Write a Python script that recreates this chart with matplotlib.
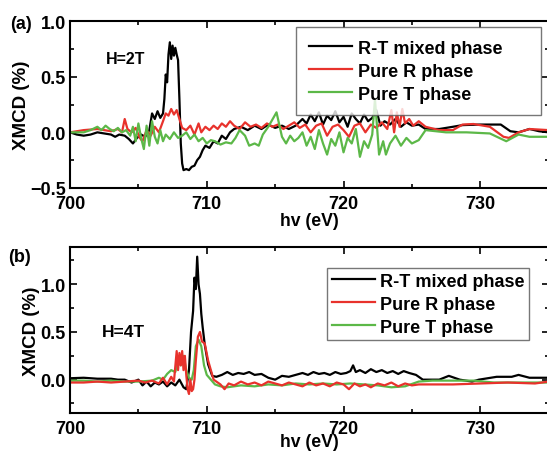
import matplotlib
matplotlib.use("Agg")
import matplotlib.pyplot as plt
from matplotlib.ticker import MultipleLocator

plt.rcParams['font.family'] = ['Liberation Sans', 'DejaVu Sans']
plt.rcParams['font.weight'] = 'bold'

# ---- panel (a), H=2T ----
a_rt_x = [700, 700.5, 701, 701.5, 702, 702.5, 703, 703.3, 703.6, 704,
          704.3, 704.6, 704.9, 705.2, 705.5, 705.8, 706.0, 706.2, 706.4, 706.6,
          706.8, 706.9, 707.0, 707.1, 707.2, 707.3, 707.4, 707.5, 707.6, 707.7,
          707.8, 707.9, 708.0, 708.1, 708.2, 708.3, 708.5, 708.7, 708.9, 709.1,
          709.3, 709.5, 709.7, 709.9, 710.2, 710.5, 710.8, 711.1, 711.4, 711.7,
          712.0, 712.5, 713, 713.5, 714, 714.5, 715, 715.5, 716, 716.5,
          717, 717.3, 717.6, 717.9, 718.2, 718.5, 718.8, 719.1, 719.4, 719.7,
          720.0, 720.3, 720.6, 720.9, 721.2, 721.5, 721.8, 722.1, 722.4, 722.7,
          723.0, 723.4, 723.8, 724.2, 724.6, 725.0, 725.5, 726, 727, 728,
          728.7, 730, 731.5, 732.2, 732.8, 733.6, 734.3, 735]
a_rt_y = [0.0, -0.02, -0.03, -0.02, 0.0, -0.01, -0.02, -0.04, -0.02, -0.03,
          -0.06, -0.1, -0.05, -0.02, -0.04, 0.02, 0.17, 0.12, 0.19, 0.13,
          0.17, 0.3, 0.52, 0.45, 0.7, 0.81, 0.66, 0.78, 0.69, 0.76,
          0.7, 0.65, 0.3, -0.1, -0.28, -0.34, -0.33, -0.34, -0.31, -0.3,
          -0.25, -0.22, -0.16, -0.12, -0.14, -0.08, -0.1, -0.03, -0.06, 0.0,
          0.03, 0.05, 0.02, 0.06, 0.03, 0.07, 0.04, 0.06, 0.03, 0.06,
          0.12, 0.08, 0.16, 0.1, 0.18, 0.07, 0.15, 0.11, 0.19, 0.09,
          0.14, 0.05, 0.17, 0.12, 0.08, 0.16, 0.1, 0.13, 0.2, 0.06,
          0.1, 0.07, 0.12, 0.05, 0.09, 0.06, 0.07, 0.03, 0.03, 0.05,
          0.065, 0.07, 0.07, 0.01, 0.0, 0.03, 0.01, 0.0]

a_r_x = [700, 701, 702, 703, 703.5, 703.8, 704.0, 704.2, 704.5, 704.8,
         705.1, 705.3, 705.6, 705.9, 706.2, 706.5, 706.8, 707.0, 707.2, 707.4,
         707.6, 707.8, 708.0, 708.2, 708.5, 708.8, 709.1, 709.4, 709.6, 709.9,
         710.2, 710.5, 710.8, 711.1, 711.4, 711.7, 712.0, 712.4, 712.8, 713.2,
         713.6, 714.0, 714.4, 714.8, 715.2, 715.6, 716.0, 716.4, 716.8, 717.2,
         717.6, 718.0, 718.4, 718.8, 719.2, 719.6, 720.0, 720.4, 720.8, 721.2,
         721.6, 722.0, 722.4, 722.8, 723.2, 723.5, 723.7, 723.9, 724.1, 724.3,
         724.5, 724.8, 725.1, 725.5, 726.0, 727, 728, 728.7, 729.5, 730.7,
         731.7, 732.1, 732.8, 733.6, 735]
a_r_y = [0.0, 0.02, 0.03, 0.01, 0.03, 0.0, 0.12, 0.03, 0.0, 0.04,
         -0.05, -0.08, 0.02, -0.03, 0.05, 0.0, 0.1, 0.17, 0.15, 0.21,
         0.16, 0.2, 0.12, 0.04, 0.02, 0.06, -0.02, 0.08, 0.0, 0.05,
         0.02, 0.06, 0.03, 0.08, 0.05, 0.1, 0.06, 0.03, 0.09, 0.05,
         0.07, 0.04, 0.08, 0.05, 0.07, 0.03, 0.06, 0.09, 0.04, 0.07,
         0.0, 0.06, 0.08, -0.03, 0.05, 0.07, 0.02, -0.04, 0.06, 0.08,
         0.0, 0.07, 0.04, 0.09, 0.03, 0.2, 0.0, 0.18, 0.05, 0.21,
         0.08, 0.12, 0.06, 0.1, 0.05, 0.02, 0.02, 0.07, 0.075, 0.05,
         -0.04, -0.05, 0.0, 0.03, 0.02]

a_t_x = [700, 701, 701.5, 702, 702.3, 702.6, 702.9, 703.2, 703.5, 703.8,
         704.1, 704.4, 704.6, 704.8, 705.0, 705.2, 705.4, 705.6, 705.8, 706.0,
         706.2, 706.4, 706.6, 706.8, 707.0, 707.3, 707.6, 707.9, 708.2, 708.5,
         708.8, 709.1, 709.4, 709.7, 710.0, 710.3, 710.6, 711.0, 711.4, 711.8,
         712.1, 712.4, 712.8, 713.1, 713.5, 713.8, 714.1, 714.5, 715.1, 715.5,
         715.8, 716.1, 716.4, 716.7, 717.0, 717.3, 717.6, 717.9, 718.2, 718.5,
         718.8, 719.1, 719.4, 719.7, 720.0, 720.3, 720.6, 720.9, 721.2, 721.5,
         721.8, 722.1, 722.3, 722.6, 722.9, 723.1, 723.4, 723.8, 724.2, 724.6,
         725.0, 725.5, 726.0, 727.5, 729.0, 730.7, 731.9, 732.8, 733.6, 735]
a_t_y = [0.0, 0.0, 0.02, 0.05, 0.02, 0.06, 0.03, 0.01, 0.04, 0.0,
         0.02, -0.03, 0.05, -0.08, 0.08, -0.05, -0.15, 0.06, -0.12, 0.1,
         -0.04, -0.1, 0.02, -0.08, -0.02, -0.06, 0.0, -0.05, -0.03, 0.0,
         -0.06, -0.02, -0.08, -0.05, -0.1, -0.07, -0.08, -0.11, -0.09, -0.1,
         -0.05, 0.02, -0.03, -0.12, -0.1, -0.12, -0.02, 0.05, 0.18, -0.04,
         -0.1, -0.03, -0.08, -0.05, 0.0, -0.12, -0.04, -0.15, 0.02, -0.1,
         -0.2, -0.06, -0.12, 0.0, -0.18, -0.05, -0.1, 0.03, -0.22, -0.08,
         -0.14, -0.02, 0.3, -0.2, -0.08, -0.2, -0.1, -0.03, -0.12, -0.05,
         -0.1, -0.07, 0.02, 0.0, 0.0, -0.01, -0.08, -0.02, -0.04, -0.04]

# ---- panel (b), H=4T ----
b_rt_x = [700, 701, 702, 703, 703.5, 704, 704.5, 705, 705.3, 705.6,
          705.9, 706.2, 706.5, 706.8, 707.1, 707.4, 707.7, 708.0, 708.3, 708.5,
          708.7, 708.85, 709.0, 709.1, 709.2, 709.3, 709.4, 709.5, 709.6, 709.7,
          709.85, 710.1, 710.4, 710.7, 711.1, 711.5, 711.9, 712.3, 712.7, 713.1,
          713.5, 714.0, 714.5, 715.0, 715.5, 716.0, 716.5, 717.0, 717.4, 717.8,
          718.2, 718.6, 719.0, 719.4, 719.8, 720.2, 720.5, 720.7, 720.9, 721.2,
          721.6, 722.0, 722.4, 722.8, 723.2, 723.6, 724.0, 724.4, 724.8, 725.3,
          725.8, 727.0, 727.7, 728.5, 729.4, 729.9, 731.2, 732.3, 732.8, 733.6,
          735]
b_rt_y = [0.015, 0.02, 0.01, 0.01, 0.0, 0.0, -0.03, 0.0, -0.06, -0.02,
          -0.07, -0.03, -0.05, -0.02, -0.07, -0.03, -0.06, 0.0, -0.08, -0.1,
          0.1, 0.5, 0.72, 1.07, 0.95, 1.29, 1.0, 0.9, 0.69, 0.55,
          0.37, 0.16, 0.04, 0.03, 0.05, 0.08, 0.05, 0.07, 0.06, 0.08,
          0.05, 0.06, 0.02, 0.0, 0.04, 0.03, 0.05, 0.07, 0.05, 0.08,
          0.06, 0.07, 0.05, 0.08, 0.06, 0.07, 0.09, 0.15, 0.08, 0.1,
          0.07, 0.11, 0.08, 0.1, 0.07, 0.09, 0.06, 0.09, 0.07, 0.05,
          0.0, 0.0, 0.04, 0.0, -0.02, 0.0, 0.03, 0.03, 0.05, 0.02,
          0.02]

b_r_x = [700, 701, 702, 703, 704, 705, 705.5, 706, 706.5, 706.8,
         707.1, 707.4, 707.6, 707.8, 707.9, 708.0, 708.1, 708.2, 708.3, 708.4,
         708.5, 708.6, 708.7, 708.8, 708.9, 709.0, 709.1, 709.2, 709.35, 709.5,
         709.65, 709.85, 710.1, 710.5, 711.0, 711.3, 711.6, 712.0, 712.5, 713.0,
         713.5, 714.0, 714.5, 715.0, 715.5, 716.0, 716.5, 717.0, 717.5, 718.0,
         718.5, 719.0, 719.5, 720.0, 720.4, 720.8, 721.2, 721.6, 722.0, 722.5,
         723.0, 723.5, 724.0, 724.5, 725.0, 725.5, 726, 728, 730, 732,
         734, 735]
b_r_y = [-0.03, -0.03, -0.02, -0.03, -0.02, -0.01, -0.03, -0.01, -0.04, 0.02,
         -0.05, 0.03, -0.02, 0.3, 0.1, 0.28, 0.15, 0.3, 0.1, 0.25,
         0.05, -0.1, -0.15, 0.0, -0.12, -0.1, 0.0, 0.2, 0.45, 0.5,
         0.4, 0.38, 0.2, 0.0, -0.05, -0.1, -0.04, -0.06, -0.02, -0.05,
         -0.03, -0.06, -0.02, -0.04, -0.06, -0.03, -0.05, -0.07, -0.03, -0.06,
         -0.04, -0.07, -0.03, -0.05, -0.1, -0.04, -0.07, -0.05, -0.08, -0.04,
         -0.06, -0.03, -0.07, -0.04, -0.06, -0.05, -0.05, -0.05, -0.04, -0.03,
         -0.04, -0.02]

b_t_x = [700, 701, 702, 703, 704, 705, 706, 706.5, 706.8, 707.1,
         707.4, 707.7, 707.9, 708.1, 708.3, 708.5, 708.7, 708.9, 709.05, 709.2,
         709.4, 709.6, 709.8, 710.0, 710.3, 710.6, 711.0, 711.5, 712.5, 713.5,
         714.5, 715.5, 716.5, 717.5, 718.5, 719.5, 720.5, 721.5, 722.5, 723.5,
         724.5, 725.5, 726.5, 728, 729.5, 731, 733, 735]
b_t_y = [-0.01, -0.01, -0.02, -0.01, -0.02, -0.02, -0.01, 0.02, 0.0, 0.06,
         0.1, 0.08, 0.2, 0.15, 0.25, 0.1, 0.02, 0.0, 0.1, 0.35,
         0.42, 0.35, 0.15, 0.05, 0.0, -0.05, -0.07, -0.08, -0.06, -0.07,
         -0.05, -0.06, -0.04, -0.05, -0.04, -0.05, -0.04, -0.05, -0.06, -0.08,
         -0.07, -0.02, -0.01, -0.01, -0.01, -0.03, -0.03, -0.03]

labels = ['R-T mixed phase', 'Pure R phase', 'Pure T phase']
colors = ['black', '#e8322c', '#5cb848']


def style_axes(ax, ylim, yticks):
    ax.set_xlim(700, 735)
    ax.set_ylim(*ylim)
    ax.set_xticks([700, 710, 720, 730])
    ax.xaxis.set_minor_locator(MultipleLocator(5))
    ax.set_yticks(yticks)
    ax.yaxis.set_minor_locator(MultipleLocator(0.25))
    ax.tick_params(which='both', direction='in', top=True, right=True, width=1.2)
    ax.tick_params(which='major', length=5, labelsize=13)
    ax.tick_params(which='minor', length=3)
    ax.tick_params(axis='x', pad=5)
    ax.tick_params(axis='y', pad=3)
    for s in ax.spines.values():
        s.set_linewidth(1.5)
    ax.set_ylabel('XMCD (%)', fontsize=13.5, fontweight='bold', labelpad=0)


fig = plt.figure(figsize=(5.47, 4.52), dpi=100)
ax1 = fig.add_axes([0.128, 0.582, 0.875, 0.369])
ax2 = fig.add_axes([0.128, 0.084, 0.875, 0.367])

h1 = ax1.plot(a_rt_x, a_rt_y, color=colors[0], lw=1.6)[0]
h2 = ax1.plot(a_r_x, a_r_y, color=colors[1], lw=1.6)[0]
h3 = ax1.plot(a_t_x, a_t_y, color=colors[2], lw=1.6)[0]
style_axes(ax1, (-0.5, 1.0), [-0.5, 0.0, 0.5, 1.0])
ax1.set_xlabel('hv (eV)', fontsize=12.7, fontweight='bold', labelpad=0)
ax1.text(702.6, 0.66, 'H=2T', fontsize=11.5, fontweight='bold', va='center')
leg1 = ax1.legend([h1, h2, h3], labels, loc='upper left', mode='expand',
                  bbox_to_anchor=(0.473, 0.467, 0.51, 0.497), fontsize=13,
                  frameon=True, fancybox=False, edgecolor='#555555',
                  handlelength=2.4, handletextpad=0.3, labelspacing=0.33,
                  borderpad=0.7, borderaxespad=0)
leg1.get_frame().set_linewidth(1.0)

g1 = ax2.plot(b_rt_x, b_rt_y, color=colors[0], lw=1.6)[0]
g3 = ax2.plot(b_t_x, b_t_y, color=colors[2], lw=1.6)[0]
g2 = ax2.plot(b_r_x, b_r_y, color=colors[1], lw=1.6)[0]
style_axes(ax2, (-0.35, 1.39), [0.0, 0.5, 1.0])
ax2.set_xlabel('hv (eV)', fontsize=12.7, fontweight='bold', labelpad=-3)
ax2.text(702.3, 0.5, 'H=4T', fontsize=12.5, fontweight='bold', va='center')
leg2 = ax2.legend([g1, g2, g3], labels, loc='upper right',
                  bbox_to_anchor=(0.96, 0.873), fontsize=13, frameon=True,
                  fancybox=False, edgecolor='#555555', handlelength=2.4,
                  handletextpad=0.3, labelspacing=0.33, borderpad=0.25,
                  borderaxespad=0)
leg2.get_frame().set_linewidth(1.0)

fig.text(0.018, 0.945, '(a)', fontsize=13, fontweight='bold', va='center')
fig.text(0.015, 0.43, '(b)', fontsize=13, fontweight='bold', va='center')

fig.savefig('out.png', dpi=100)
